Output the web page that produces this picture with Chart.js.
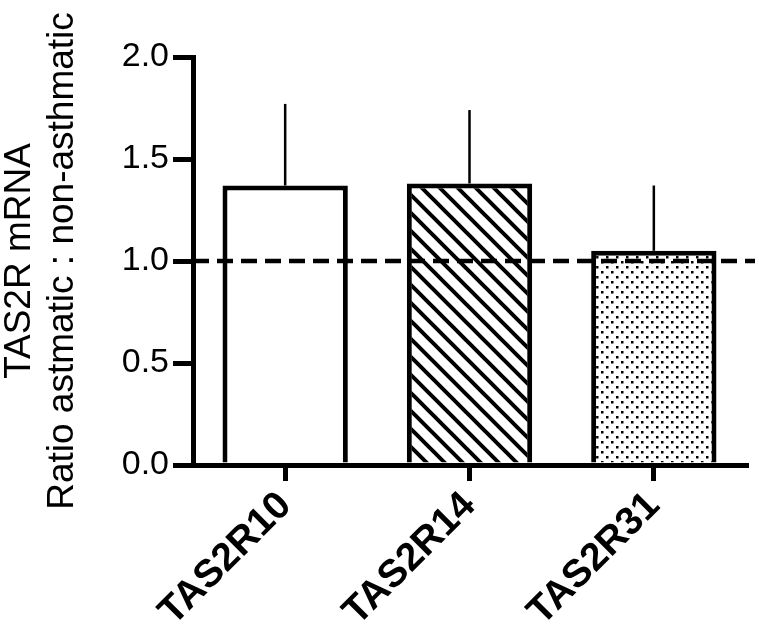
<!DOCTYPE html>
<html>
<head>
<meta charset="utf-8">
<script src="https://cdn.jsdelivr.net/npm/chart.js@4"></script>
<style>
  html, body { margin: 0; padding: 0; background: #fff; }
  #wrap { width: 759px; height: 631px; }
</style>
</head>
<body>
<div id="wrap"><canvas id="ratioChart" width="759" height="631"></canvas></div>
<script>
// --- Data ---
const categories = ['TAS2R10', 'TAS2R14', 'TAS2R31'];
const ratios = [1.37, 1.38, 1.05];
const sem = [0.40, 0.36, 0.32];
const yTicks = [0.0, 0.5, 1.0, 1.5, 2.0];
const refLine = 1.0;
const yTitle = ['TAS2R mRNA', 'Ratio astmatic : non-asthmatic'];

// --- Fill patterns ---
function hatchPattern() {
  const c = document.createElement('canvas');
  c.width = 18; c.height = 18;
  const g = c.getContext('2d');
  g.fillStyle = '#fff';
  g.fillRect(0, 0, 18, 18);
  g.strokeStyle = '#000';
  g.lineWidth = 4;
  g.beginPath();
  g.moveTo(-4, -4); g.lineTo(22, 22);
  g.moveTo(-22, -4); g.lineTo(4, 22);
  g.moveTo(14, -4); g.lineTo(40, 22);
  g.stroke();
  return g.createPattern(c, 'repeat');
}

function dotPattern() {
  const c = document.createElement('canvas');
  c.width = 10; c.height = 10;
  const g = c.getContext('2d');
  g.fillStyle = '#fff';
  g.fillRect(0, 0, 10, 10);
  g.fillStyle = '#000';
  g.fillRect(1, 1, 2.5, 2.5);
  g.fillRect(6, 6, 2.5, 2.5);
  return g.createPattern(c, 'repeat');
}

// --- Error bars + dashed reference line ---
const extras = {
  id: 'extras',
  afterDatasetsDraw(chart) {
    const { ctx, chartArea, scales: { y } } = chart;
    const meta = chart.getDatasetMeta(0);
    ctx.save();
    ctx.strokeStyle = '#000';
    ctx.lineWidth = 2.5;
    meta.data.forEach((bar, i) => {
      ctx.beginPath();
      ctx.moveTo(bar.x, y.getPixelForValue(ratios[i]));
      ctx.lineTo(bar.x, y.getPixelForValue(ratios[i] + sem[i]));
      ctx.stroke();
    });
    const ry = y.getPixelForValue(refLine);
    ctx.lineWidth = 4.5;
    ctx.setLineDash([16, 8]);
    ctx.beginPath();
    ctx.moveTo(chartArea.left, ry);
    ctx.lineTo(chart.width - 4, ry);
    ctx.stroke();
    ctx.restore();
  }
};

new Chart(document.getElementById('ratioChart'), {
  type: 'bar',
  data: {
    labels: categories,
    datasets: [{
      data: ratios,
      backgroundColor: ['#fff', hatchPattern(), dotPattern()],
      borderColor: '#000',
      borderWidth: 5,
      barPercentage: 0.68,
      categoryPercentage: 1
    }]
  },
  options: {
    responsive: false,
    animation: false,
    layout: { padding: { top: 57, right: 13, left: 0, bottom: 0 } },
    plugins: { legend: { display: false }, tooltip: { enabled: false } },
    scales: {
      x: {
        afterFit: s => { s.height = 166; },
        grid: { drawOnChartArea: false, offset: false, tickLength: 16, lineWidth: 5, color: '#000' },
        border: { color: '#000', width: 5 },
        ticks: {
          color: '#000',
          autoSkip: false,
          minRotation: 45,
          maxRotation: 45,
          padding: 2,
          font: { family: '"Liberation Sans", Arial, sans-serif', size: 39, weight: 'bold' }
        }
      },
      y: {
        min: yTicks[0],
        max: yTicks[yTicks.length - 1],
        afterFit: s => { s.width = 193; },
        afterBuildTicks: s => { s.ticks = yTicks.map(v => ({ value: v })); },
        grid: { drawOnChartArea: false, tickLength: 20, lineWidth: 5, color: '#000' },
        border: { color: '#000', width: 5 },
        ticks: {
          color: '#000',
          padding: 4,
          callback: v => v.toFixed(1),
          font: { family: '"Liberation Sans", Arial, sans-serif', size: 34 }
        },
        title: {
          display: true,
          text: yTitle,
          color: '#000',
          padding: { top: -1, bottom: 0 },
          font: { family: '"Liberation Sans", Arial, sans-serif', size: 37, lineHeight: 1.15 }
        }
      }
    }
  },
  plugins: [extras]
});
</script>
</body>
</html>
